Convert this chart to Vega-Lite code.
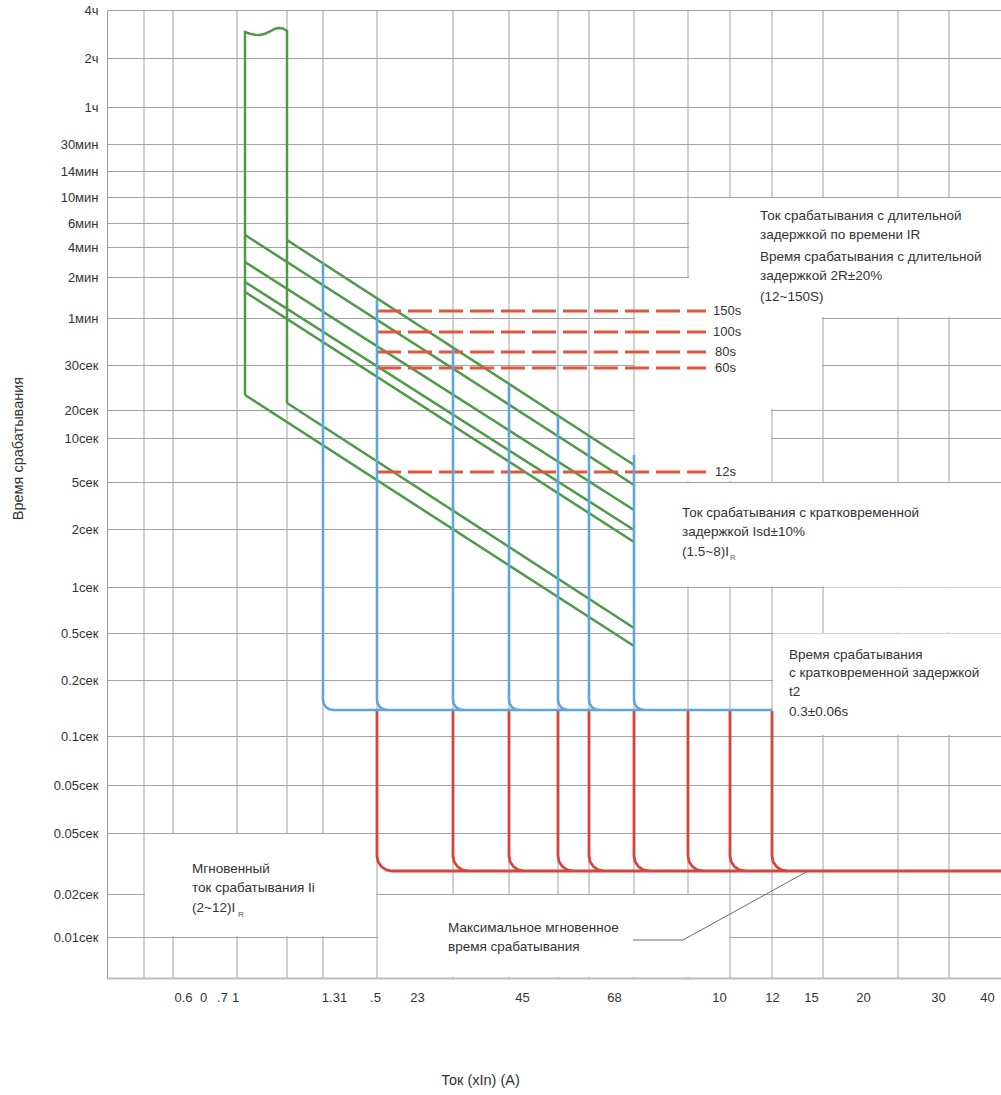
{
  "$schema": "https://vega.github.io/schema/vega-lite/v6.json",
  "width": 894,
  "height": 968,
  "autosize": {"type": "none"},
  "padding": {"left": 107, "top": 10, "right": 0, "bottom": 117},
  "background": "white",
  "config": {"font": "Liberation Sans", "view": {"stroke": null}, "axis": {"labelFont": "Liberation Sans", "titleFont": "Liberation Sans"}},
  "datasets": {
    "vg": [{"x":37,"y":0,"y2":968},{"x":66,"y":0,"y2":968},{"x":130,"y":0,"y2":968},{"x":180,"y":0,"y2":968},{"x":216,"y":0,"y2":968},{"x":270,"y":0,"y2":968},{"x":346,"y":0,"y2":968},{"x":402,"y":0,"y2":968},{"x":451,"y":0,"y2":968},{"x":482,"y":0,"y2":968},{"x":527,"y":0,"y2":968},{"x":581,"y":0,"y2":968},{"x":623,"y":0,"y2":968},{"x":665,"y":0,"y2":968},{"x":716,"y":0,"y2":968},{"x":791,"y":0,"y2":968},{"x":842,"y":0,"y2":968}],
    "masks": [
      {"x":582,"x2":894,"y":661,"y2":780},
      {"x":528,"x2":715,"y":569,"y2":700},
      {"x":528,"x2":664,"y":497,"y2":569},
      {"x":528,"x2":894,"y":391.6,"y2":495},
      {"x":666,"x2":894,"y":243,"y2":344.4},
      {"x":717,"x2":894,"y":345.6,"y2":390.4},
      {"x":38,"x2":269,"y":42,"y2":144},
      {"x":271,"x2":622,"y":1,"y2":83}
    ],
    "green": [
      {"s":"g0","o":0,"x":138,"y":583},{"s":"g0","o":1,"x":138,"y":946},{"s":"g0","o":2,"x":143,"y":944.3},{"s":"g0","o":3,"x":148,"y":943.2},{"s":"g0","o":4,"x":153,"y":943},{"s":"g0","o":5,"x":158,"y":944.3},{"s":"g0","o":6,"x":163,"y":946.5},{"s":"g0","o":7,"x":168,"y":949.2},{"s":"g0","o":8,"x":172,"y":950},{"s":"g0","o":9,"x":176,"y":949.5},{"s":"g0","o":10,"x":180,"y":947},{"s":"g0","o":11,"x":180,"y":575},
      {"s":"g1","o":0,"x":180,"y":738},{"s":"g1","o":1,"x":527,"y":513},
      {"s":"g2","o":0,"x":138,"y":743},{"s":"g2","o":1,"x":527,"y":493},
      {"s":"g3","o":0,"x":138,"y":716},{"s":"g3","o":1,"x":527,"y":468},
      {"s":"g4","o":0,"x":138,"y":696},{"s":"g4","o":1,"x":527,"y":448},
      {"s":"g5","o":0,"x":138,"y":686},{"s":"g5","o":1,"x":527,"y":436},
      {"s":"g6","o":0,"x":138,"y":583},{"s":"g6","o":1,"x":527,"y":332},
      {"s":"g7","o":0,"x":180,"y":575},{"s":"g7","o":1,"x":527,"y":350}
    ],
    "blue": [
      {"s":"b0","o":0,"x":216,"y":715},{"s":"b0","o":1,"x":216,"y":278},{"s":"b0","o":2,"x":216.8,"y":274.2},{"s":"b0","o":3,"x":218.9,"y":270.9},{"s":"b0","o":4,"x":222.2,"y":268.8},{"s":"b0","o":5,"x":226,"y":268},{"s":"b0","o":6,"x":665,"y":268},
      {"s":"b1","o":0,"x":270,"y":678},{"s":"b1","o":1,"x":270,"y":278},{"s":"b1","o":2,"x":270.8,"y":274.2},{"s":"b1","o":3,"x":272.9,"y":270.9},{"s":"b1","o":4,"x":276.2,"y":268.8},{"s":"b1","o":5,"x":280,"y":268},
      {"s":"b2","o":0,"x":346,"y":630},{"s":"b2","o":1,"x":346,"y":278},{"s":"b2","o":2,"x":346.8,"y":274.2},{"s":"b2","o":3,"x":348.9,"y":270.9},{"s":"b2","o":4,"x":352.2,"y":268.8},{"s":"b2","o":5,"x":356,"y":268},
      {"s":"b3","o":0,"x":402,"y":593},{"s":"b3","o":1,"x":402,"y":278},{"s":"b3","o":2,"x":402.8,"y":274.2},{"s":"b3","o":3,"x":404.9,"y":270.9},{"s":"b3","o":4,"x":408.2,"y":268.8},{"s":"b3","o":5,"x":412,"y":268},
      {"s":"b4","o":0,"x":451,"y":562},{"s":"b4","o":1,"x":451,"y":278},{"s":"b4","o":2,"x":451.8,"y":274.2},{"s":"b4","o":3,"x":453.9,"y":270.9},{"s":"b4","o":4,"x":457.2,"y":268.8},{"s":"b4","o":5,"x":461,"y":268},
      {"s":"b5","o":0,"x":482,"y":541},{"s":"b5","o":1,"x":482,"y":278},{"s":"b5","o":2,"x":482.8,"y":274.2},{"s":"b5","o":3,"x":484.9,"y":270.9},{"s":"b5","o":4,"x":488.2,"y":268.8},{"s":"b5","o":5,"x":492,"y":268},
      {"s":"b6","o":0,"x":527,"y":523},{"s":"b6","o":1,"x":527,"y":278},{"s":"b6","o":2,"x":527.8,"y":274.2},{"s":"b6","o":3,"x":529.9,"y":270.9},{"s":"b6","o":4,"x":533.2,"y":268.8},{"s":"b6","o":5,"x":537,"y":268}
    ],
    "red": [
      {"s":"r0","o":0,"x":270,"y":267},{"s":"r0","o":1,"x":270,"y":122},{"s":"r0","o":2,"x":271.1,"y":116.3},{"s":"r0","o":3,"x":274.4,"y":111.4},{"s":"r0","o":4,"x":279.3,"y":108.1},{"s":"r0","o":5,"x":285,"y":107},{"s":"r0","o":6,"x":894,"y":107},
      {"s":"r1","o":0,"x":346,"y":267},{"s":"r1","o":1,"x":346,"y":122},{"s":"r1","o":2,"x":347.1,"y":116.3},{"s":"r1","o":3,"x":350.4,"y":111.4},{"s":"r1","o":4,"x":355.3,"y":108.1},{"s":"r1","o":5,"x":361,"y":107},
      {"s":"r2","o":0,"x":402,"y":267},{"s":"r2","o":1,"x":402,"y":122},{"s":"r2","o":2,"x":403.1,"y":116.3},{"s":"r2","o":3,"x":406.4,"y":111.4},{"s":"r2","o":4,"x":411.3,"y":108.1},{"s":"r2","o":5,"x":417,"y":107},
      {"s":"r3","o":0,"x":451,"y":267},{"s":"r3","o":1,"x":451,"y":122},{"s":"r3","o":2,"x":452.1,"y":116.3},{"s":"r3","o":3,"x":455.4,"y":111.4},{"s":"r3","o":4,"x":460.3,"y":108.1},{"s":"r3","o":5,"x":466,"y":107},
      {"s":"r4","o":0,"x":482,"y":267},{"s":"r4","o":1,"x":482,"y":122},{"s":"r4","o":2,"x":483.1,"y":116.3},{"s":"r4","o":3,"x":486.4,"y":111.4},{"s":"r4","o":4,"x":491.3,"y":108.1},{"s":"r4","o":5,"x":497,"y":107},
      {"s":"r5","o":0,"x":527,"y":267},{"s":"r5","o":1,"x":527,"y":122},{"s":"r5","o":2,"x":528.1,"y":116.3},{"s":"r5","o":3,"x":531.4,"y":111.4},{"s":"r5","o":4,"x":536.3,"y":108.1},{"s":"r5","o":5,"x":542,"y":107},
      {"s":"r6","o":0,"x":581,"y":267},{"s":"r6","o":1,"x":581,"y":122},{"s":"r6","o":2,"x":582.1,"y":116.3},{"s":"r6","o":3,"x":585.4,"y":111.4},{"s":"r6","o":4,"x":590.3,"y":108.1},{"s":"r6","o":5,"x":596,"y":107},
      {"s":"r7","o":0,"x":623,"y":267},{"s":"r7","o":1,"x":623,"y":122},{"s":"r7","o":2,"x":624.1,"y":116.3},{"s":"r7","o":3,"x":627.4,"y":111.4},{"s":"r7","o":4,"x":632.3,"y":108.1},{"s":"r7","o":5,"x":638,"y":107},
      {"s":"r8","o":0,"x":665,"y":267},{"s":"r8","o":1,"x":665,"y":122},{"s":"r8","o":2,"x":666.1,"y":116.3},{"s":"r8","o":3,"x":669.4,"y":111.4},{"s":"r8","o":4,"x":674.3,"y":108.1},{"s":"r8","o":5,"x":680,"y":107}
    ],
    "pointer": [{"o":0,"x":526,"y":38},{"o":1,"x":576,"y":38},{"o":2,"x":701,"y":107}],
    "dash": [
      {"x":270,"x2":599,"y":667},
      {"x":270,"x2":599,"y":646},
      {"x":270,"x2":599,"y":626},
      {"x":270,"x2":599,"y":610},
      {"x":270,"x2":599,"y":506}
    ],
    "dashlab": [
      {"x":606,"y":667,"t":"150s"},
      {"x":606,"y":646,"t":"100s"},
      {"x":608,"y":626,"t":"80s"},
      {"x":608,"y":610,"t":"60s"},
      {"x":608,"y":506,"t":"12s"}
    ],
    "notes": [
      {"x":653,"y":762,"t":"Ток срабатывания с длительной"},
      {"x":653,"y":743,"t":"задержкой по времени IR"},
      {"x":653,"y":721,"t":"Время срабатывания с длительной"},
      {"x":653,"y":702,"t":"задержкой 2R±20%"},
      {"x":653,"y":681,"t":"(12~150S)"},
      {"x":575,"y":465,"t":"Ток срабатывания с кратковременной"},
      {"x":575,"y":446,"t":"задержкой Isd±10%"},
      {"x":575,"y":426,"t":"(1.5~8)I"},
      {"x":682,"y":323,"t":"Время срабатывания"},
      {"x":682,"y":305,"t":"с кратковременной задержкой"},
      {"x":682,"y":286,"t":"t2"},
      {"x":682,"y":266,"t":"0.3±0.06s"},
      {"x":85,"y":109,"t":"Мгновенный"},
      {"x":85,"y":90,"t":"ток срабатывания Ii"},
      {"x":85,"y":70,"t":"(2~12)I"},
      {"x":341,"y":50,"t":"Максимальное мгновенное"},
      {"x":341,"y":31,"t":"время срабатывания"}
    ],
    "subs": [{"x":623,"y":420,"t":"R"},{"x":131,"y":63,"t":"R"}]
  },
  "encoding": {
    "x": {"field": "x", "type": "quantitative", "scale": {"domain": [0, 894], "nice": false, "zero": false},
      "axis": {
        "values": [76, 96, 115, 128, 227, 268, 310, 415, 507, 612, 665, 704, 756, 831, 880],
        "labelExpr": "['0.6','0','.7','1','1.31','.5','23','45','68','10','12','15','20','30','40'][indexof([76,96,115,128,227,268,310,415,507,612,665,704,756,831,880], datum.value)]",
        "grid": false, "ticks": false, "tickSize": 0,
        "domainColor": "#bdbdbd", "domainWidth": 2,
        "labelFontSize": 13, "labelColor": "#333333", "labelPadding": 19, "labelBaseline": "middle",
        "labelOverlap": false, "labelFlush": false, "labelBound": false,
        "title": "Ток (xIn) (A)", "titleX": 373, "titleY": 102, "titleBaseline": "middle", "titleAlign": "center",
        "titleFontSize": 14.5, "titleFontWeight": "normal", "titleColor": "#333333"
      }
    },
    "y": {"field": "y", "type": "quantitative", "scale": {"domain": [0, 968], "nice": false, "zero": false},
      "axis": {
        "values": [968, 920, 871, 834, 807, 781, 755, 731, 701, 660, 613, 568, 540, 496, 449, 391, 345, 298, 242, 193, 145, 84, 41],
        "labelExpr": "['4ч','2ч','1ч','30мин','14мин','10мин','6мин','4мин','2мин','1мин','30сек','20сек','10сек','5сек','2сек','1сек','0.5сек','0.2сек','0.1сек','0.05сек','0.05сек','0.02сек','0.01сек'][indexof([968,920,871,834,807,781,755,731,701,660,613,568,540,496,449,391,345,298,242,193,145,84,41], datum.value)]",
        "grid": true, "gridColor": "#a3a3a3", "gridWidth": 1,
        "ticks": false, "tickSize": 0,
        "domainColor": "#9a9a9a", "domainWidth": 1,
        "labelFontSize": 13, "labelColor": "#333333", "labelPadding": 9,
        "labelOverlap": false, "labelFlush": false, "labelBound": false,
        "encode": {"labels": {"update": {"dy": {"signal": "datum.value === 968 ? 4 : 0"}}}},
        "title": "Время срабатывания", "titleX": -89, "titleY": 438, "titleAngle": 270, "titleBaseline": "middle", "titleAlign": "center",
        "titleFontSize": 14.5, "titleFontWeight": "normal", "titleColor": "#333333"
      }
    }
  },
  "layer": [
    {
      "data": {"name": "vg"},
      "mark": {"type": "rule", "color": "#a3a3a3", "strokeWidth": 1},
      "encoding": {"y2": {"field": "y2"}}
    },
    {
      "data": {"name": "masks"},
      "mark": {"type": "rect", "color": "white", "strokeWidth": 0},
      "encoding": {"x2": {"field": "x2"}, "y2": {"field": "y2"}}
    },
    {
      "data": {"name": "green"},
      "mark": {"type": "line", "color": "#4e9b47", "strokeWidth": 2.5},
      "encoding": {"detail": {"field": "s"}, "order": {"field": "o"}}
    },
    {
      "data": {"name": "dash"},
      "mark": {"type": "rule", "color": "#e0573f", "strokeWidth": 3, "strokeDash": [24, 7]},
      "encoding": {"x2": {"field": "x2"}}
    },
    {
      "data": {"name": "dashlab"},
      "mark": {"type": "text", "align": "left", "baseline": "middle", "fontSize": 13, "color": "#333333"},
      "encoding": {"text": {"field": "t"}}
    },
    {
      "data": {"name": "red"},
      "mark": {"type": "line", "color": "#d8433a", "strokeWidth": 2.8},
      "encoding": {"detail": {"field": "s"}, "order": {"field": "o"}}
    },
    {
      "data": {"name": "blue"},
      "mark": {"type": "line", "color": "#5ba7de", "strokeWidth": 2.6},
      "encoding": {"detail": {"field": "s"}, "order": {"field": "o"}}
    },
    {
      "data": {"name": "pointer"},
      "mark": {"type": "line", "color": "#6b6b6b", "strokeWidth": 1},
      "encoding": {"order": {"field": "o"}}
    },
    {
      "data": {"name": "notes"},
      "mark": {"type": "text", "align": "left", "baseline": "middle", "fontSize": 13.5, "color": "#333333"},
      "encoding": {"text": {"field": "t"}}
    },
    {
      "data": {"name": "subs"},
      "mark": {"type": "text", "align": "left", "baseline": "middle", "fontSize": 8, "color": "#555555"},
      "encoding": {"text": {"field": "t"}}
    }
  ]
}
